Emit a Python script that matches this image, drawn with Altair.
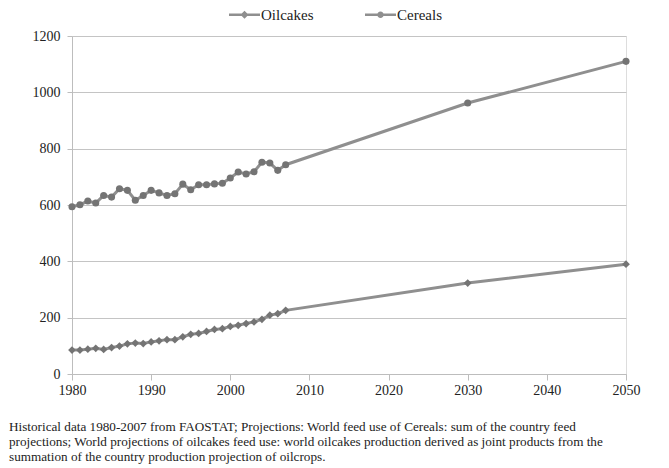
import altair as alt
import pandas as pd

years = list(range(1980, 2008)) + [2030, 2050]

cereals = [594, 601, 614, 607, 634, 628, 658, 652, 617, 634,
           652, 643, 634, 640, 674, 654, 672, 672, 675, 677,
           696, 717, 710, 718, 752, 749, 723, 743, 962, 1110]

oilcakes = [85, 85, 88, 91, 87, 94, 99, 107, 110, 108,
            114, 118, 122, 122, 132, 141, 144, 151, 158, 161,
            169, 173, 179, 185, 194, 209, 214, 226, 323, 390]

series_names = ["Oilcakes", "Cereals"]
x_ticks = [1980, 1990, 2000, 2010, 2020, 2030, 2040, 2050]
y_ticks = [0, 200, 400, 600, 800, 1000, 1200]

footnote = [
    "Historical data 1980-2007 from FAOSTAT; Projections: World feed use of Cereals: sum of the country feed",
    "projections; World projections of oilcakes feed use: world oilcakes production derived as joint products from the",
    "summation of the country production projection of oilcrops.",
]

rows = []
for y, v in zip(years, oilcakes):
    rows.append({"year": y, "value": v, "series": "Oilcakes"})
for y, v in zip(years, cereals):
    rows.append({"year": y, "value": v, "series": "Cereals"})
df = pd.DataFrame(rows)

FONT = "'Liberation Serif', 'Times New Roman', serif"
LINE_COLOR = "#8f8f8f"
MARK_COLOR = "#747474"

x_enc = alt.X(
    "year:Q",
    scale=alt.Scale(domain=[1980, 2050], nice=False, zero=False),
    axis=alt.Axis(
        values=x_ticks, format="d", title=None, grid=False, labelFlush=False,
        domainColor="#bdbdbd", tickColor="#bdbdbd", tickSize=6,
        labelFont=FONT, labelFontSize=14, labelColor="#222222", labelPadding=3,
    ),
)
y_enc = alt.Y(
    "value:Q",
    scale=alt.Scale(domain=[0, 1200], nice=False),
    axis=alt.Axis(
        values=y_ticks, format="d", title=None, grid=True, gridColor="#c4c4c4",
        domainColor="#bdbdbd", tickColor="#bdbdbd", tickSize=5,
        labelFont=FONT, labelFontSize=14, labelColor="#222222", labelPadding=7,
    ),
)

base = alt.Chart(df)

lines = base.mark_line(color=LINE_COLOR, strokeWidth=3).encode(
    x=x_enc, y=y_enc, detail="series:N"
)

oil_pts = base.transform_filter(alt.datum.series == "Oilcakes").mark_point(
    shape="diamond", filled=True, size=60, color=MARK_COLOR, opacity=1
).encode(x="year:Q", y="value:Q")

cer_pts = base.transform_filter(alt.datum.series == "Cereals").mark_point(
    shape="circle", filled=True, size=50, color=MARK_COLOR, opacity=1
).encode(x="year:Q", y="value:Q")

diamond_path = "M-1,-0.08 L1,-0.08 L1,0.08 L-1,0.08 Z M0,-0.26 L0.26,0 L0,0.26 L-0.26,0 Z"
circle_path = "M-1,-0.08 L1,-0.08 L1,0.08 L-1,0.08 Z M-0.21,0 A0.21,0.21 0 1,1 0.21,0 A0.21,0.21 0 1,1 -0.21,0 Z"

legend_layer = base.transform_filter("datum.year < 0").mark_point(
    filled=True, color=LINE_COLOR
).encode(
    x="year:Q", y="value:Q",
    shape=alt.Shape(
        "series:N",
        scale=alt.Scale(domain=series_names, range=[diamond_path, circle_path]),
        legend=alt.Legend(
            title=None, orient="none", direction="horizontal",
            legendX=157, legendY=-37, symbolSize=961,
            symbolFillColor=LINE_COLOR, symbolStrokeWidth=0, symbolOpacity=1,
            labelFont=FONT, labelFontSize=15, labelColor="#222222",
            labelOffset=1, columnPadding=51, padding=0,
        ),
    ),
)

chart = alt.layer(lines, oil_pts, cer_pts, legend_layer).properties(
    width=554,
    height=338,
    title=alt.TitleParams(
        text=footnote, orient="bottom", anchor="start", frame="group",
        font=FONT, fontSize=13.2, fontWeight="normal", color="#222222",
        lineHeight=15, dx=-63, offset=24,
    ),
    autosize=alt.AutoSizeParams(type="none"),
    padding={"left": 64, "top": 28, "right": 35, "bottom": 94},
).configure_view(stroke=None).configure(
    background="white", font=FONT
).configure_axis(labelFont=FONT).configure_legend(labelFont=FONT)

chart.save("out.html", embed_options={"renderer": "svg", "actions": False})
